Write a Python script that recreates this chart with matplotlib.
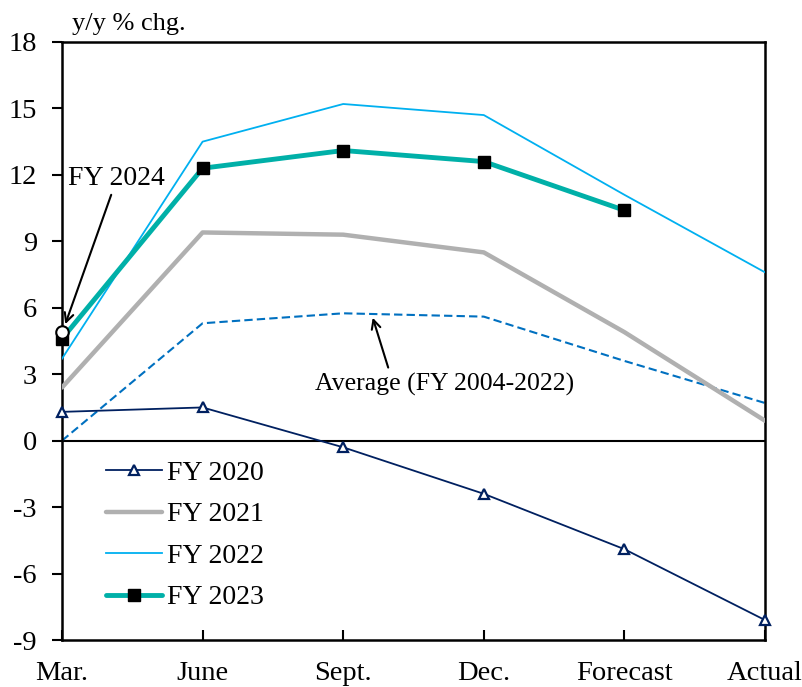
import numpy as np
import matplotlib
matplotlib.use("Agg")
import matplotlib.pyplot as plt

plt.rcParams["font.family"] = ["Liberation Serif", "DejaVu Serif"]
plt.rcParams["axes.unicode_minus"] = False

periods = ["Mar.", "June", "Sept.", "Dec.", "Forecast", "Actual"]

fy2020 = [1.3, 1.5, -0.3, -2.4, -4.9, -8.1]
fy2021 = [2.4, 9.4, 9.3, 8.5, 4.9, 0.9]
fy2022 = [3.7, 13.5, 15.2, 14.7, 11.1, 7.6]
fy2023 = [4.6, 12.3, 13.1, 12.6, 10.4]
fy2024 = [4.9]
average = [0.0, 5.3, 5.75, 5.6, 3.6, 1.7]

x = np.arange(len(periods))

fig = plt.figure(figsize=(8.03, 6.87), dpi=100)
ax = fig.add_axes([0.0772, 0.0684, 0.8755, 0.8705])

ax.axhline(0, color="black", lw=1.5, zorder=1)

ax.plot(x, average, color="#0070C0", lw=1.5, ls=(0, (4, 2)), zorder=2)
ax.plot(x, fy2020, color="#002060", lw=1.3, marker="^", ms=7,
        mfc="white", mec="#002060", mew=1.6, label="FY 2020", zorder=3,
        clip_on=False)
ax.plot(x, fy2021, color="#B0B0B0", lw=3.2, solid_capstyle="round",
        label="FY 2021", zorder=3)
ax.plot(x, fy2022, color="#00B0F0", lw=1.3, label="FY 2022", zorder=3)
ax.plot(x[:len(fy2023)], fy2023, color="#00B0A8", lw=3.5, marker="s", ms=9,
        mfc="black", mec="black", solid_capstyle="round",
        label="FY 2023", zorder=4, clip_on=False)
ax.plot(x[:len(fy2024)], fy2024, ls="none", marker="o", ms=9,
        mfc="white", mec="black", mew=1.5, zorder=5, clip_on=False)

# FY 2024 callout
ax.text(0.04, 11.85, "FY 2024", fontsize=20, ha="left", va="center")
ax.annotate("", xy=(0.02, 5.2), xytext=(0.35, 11.1),
            arrowprops=dict(arrowstyle="->", color="black", lw=1.5,
                            shrinkA=0, shrinkB=1, mutation_scale=16))

# average callout
ax.text(2.72, 2.55, "Average (FY 2004-2022)", fontsize=18.5,
        ha="center", va="center")
ax.annotate("", xy=(2.21, 5.55), xytext=(2.32, 3.3),
            arrowprops=dict(arrowstyle="->", color="black", lw=1.5,
                            shrinkA=0, shrinkB=0, mutation_scale=16))

ax.set_xlim(0, 5)
ax.set_ylim(-9, 18)
ax.set_yticks(np.arange(-9, 19, 3))
ax.set_xticks(x)
ax.set_xticklabels(periods)
ax.tick_params(axis="y", direction="out", length=7, width=1.5, labelsize=20.5, pad=11)
ax.tick_params(axis="x", direction="in", length=7, width=1.5, labelsize=20.5, pad=15)
for s in ax.spines.values():
    s.set_linewidth(1.8)

ax.text(0.014, 1.012, "y/y % chg.", transform=ax.transAxes, fontsize=19,
        ha="left", va="bottom")

ax.legend(loc="upper left", bbox_to_anchor=(0.035, 0.333), frameon=False,
          fontsize=20, handlelength=2.0, handletextpad=0.2, labelspacing=0.58,
          borderpad=0.2)

fig.savefig("out.png", dpi=100)
